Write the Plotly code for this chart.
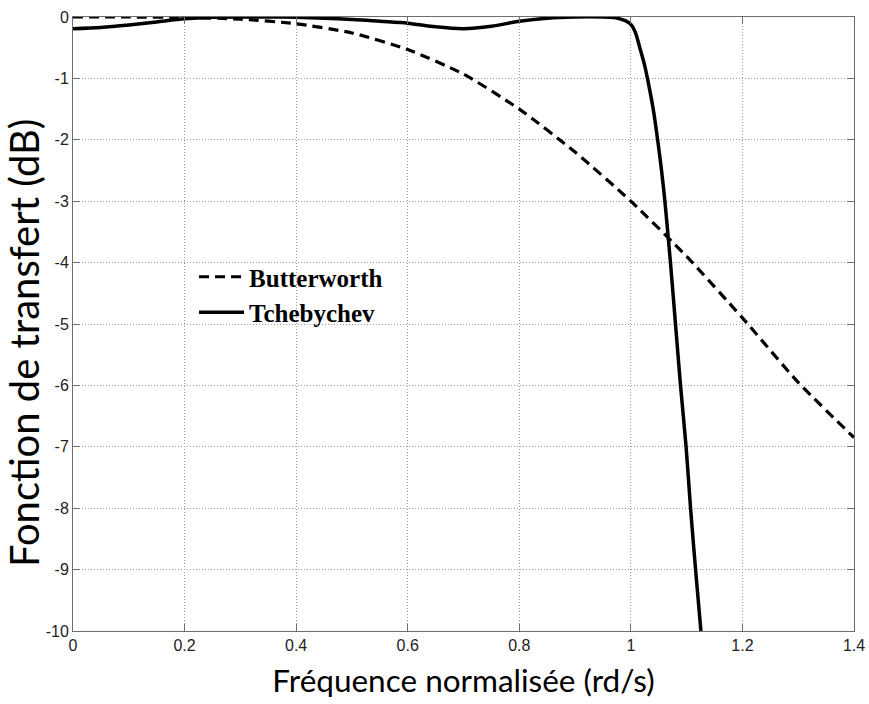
import plotly.graph_objects as go

# Frequency response readings (normalised frequency in rd/s, gain in dB)
butter_w = [0.0, 0.1, 0.2, 0.3, 0.4, 0.5, 0.6, 0.7, 0.8, 0.9, 1.0, 1.1, 1.2, 1.3, 1.4]
butter_db = [0.0, 0.0, -0.007, -0.035, -0.11, -0.26, -0.53, -0.93, -1.5, -2.2, -3.0,
             -3.9, -4.9, -5.95, -6.85]

cheb_w = [0.0, 0.05, 0.1, 0.15, 0.2, 0.25, 0.3, 0.35, 0.4, 0.45, 0.5, 0.55, 0.6,
          0.65, 0.7, 0.75, 0.8, 0.85, 0.9, 0.95, 0.97, 0.98, 0.99, 1.0, 1.008, 1.016,
          1.025, 1.033, 1.041, 1.048, 1.055, 1.061, 1.071, 1.08, 1.089, 1.099, 1.107,
          1.116, 1.1256]
cheb_db = [-0.19, -0.17, -0.13, -0.08, -0.03, -0.005, 0.0, 0.0, -0.005, -0.02, -0.04,
           -0.07, -0.1, -0.16, -0.19, -0.15, -0.07, -0.02, 0.0, 0.0, -0.01, -0.03,
           -0.06, -0.12, -0.25, -0.5, -0.8, -1.15, -1.55, -2.0, -2.5, -3.0, -4.0, -5.0,
           -6.0, -7.0, -8.0, -9.0, -10.0]

x_ticks = [0, 0.2, 0.4, 0.6, 0.8, 1.0, 1.2, 1.4]
x_labels = ["0", "0.2", "0.4", "0.6", "0.8", "1", "1.2", "1.4"]
y_ticks = [0, -1, -2, -3, -4, -5, -6, -7, -8, -9, -10]
y_labels = ["0", "-1", "-2", "-3", "-4", "-5", "-6", "-7", "-8", "-9", "-10"]

fig = go.Figure()
fig.add_trace(go.Scatter(
    x=butter_w, y=butter_db, name="Butterworth", mode="lines",
    line=dict(color="black", width=3.2, dash="10px,6px", shape="spline", smoothing=0.6),
))
fig.add_trace(go.Scatter(
    x=cheb_w, y=cheb_db, name="Tchebychev", mode="lines",
    line=dict(color="black", width=3.5, shape="spline", smoothing=0.8),
))

axis_common = dict(
    showline=True, linecolor="#6e6e6e", linewidth=1, mirror="allticks",
    ticks="inside", ticklen=7, tickcolor="#6e6e6e", tickwidth=1,
    showgrid=True, gridcolor="#9a9a9a", gridwidth=1, griddash="1px,2px",
    zeroline=False, automargin=False,
    tickfont=dict(family="Liberation Sans, Arial", size=16, color="#222"),
)

fig.update_layout(
    template="none",
    width=869, height=704,
    margin=dict(l=73, r=15, t=17, b=73),
    paper_bgcolor="white", plot_bgcolor="white",
    showlegend=True,
    legend=dict(
        x=0.155, y=0.614, xanchor="left", yanchor="top",
        bgcolor="rgba(0,0,0,0)", borderwidth=0,
        font=dict(family="Liberation Serif, Times New Roman", size=25,
                  color="black", weight="bold"),
        itemwidth=45, tracegroupgap=0,
    ),
    xaxis=dict(
        range=[0, 1.4], tickvals=x_ticks, ticktext=x_labels,
        title=dict(text="Fréquence normalisée (rd/s)",
                   font=dict(family="Lato", size=31.5, color="black"), standoff=16),
        **axis_common,
    ),
    yaxis=dict(
        range=[-10, 0], tickvals=y_ticks, ticktext=y_labels,
        **axis_common,
    ),
    annotations=[dict(
        text="Fonction de transfert (dB)", textangle=-90,
        xref="paper", yref="paper", x=-0.062, y=0.47,
        xanchor="center", yanchor="middle", showarrow=False,
        font=dict(family="Lato", size=40, color="black"),
    )],
)

fig.write_html("out.html")
